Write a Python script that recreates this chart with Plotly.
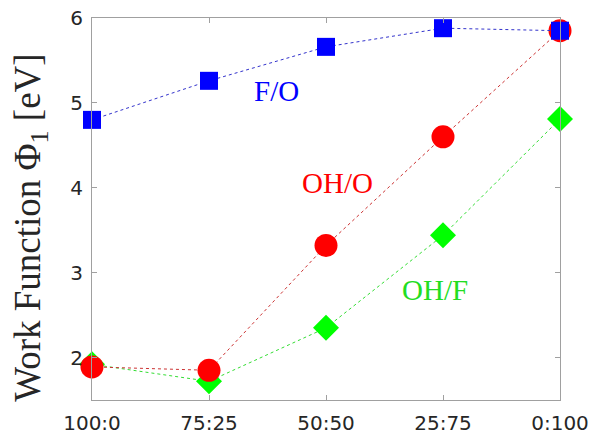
import plotly.graph_objects as go

categories = ["100:0", "75:25", "50:50", "25:75", "0:100"]
fo = [4.80, 5.26, 5.66, 5.88, 5.85]
oho = [1.89, 1.85, 3.32, 4.60, 5.85]
ohf = [1.92, 1.72, 2.35, 3.44, 4.81]
yticks = [2, 3, 4, 5, 6]
xidx = list(range(len(categories)))

fig = go.Figure()
fig.add_trace(go.Scatter(x=xidx, y=ohf, mode="lines+markers", cliponaxis=False,
                         line=dict(color="#33dd33", width=1, dash="dot"),
                         marker=dict(symbol="diamond", size=20, color="#00ff00")))
fig.add_trace(go.Scatter(x=xidx, y=oho, mode="lines+markers", cliponaxis=False,
                         line=dict(color="#cc3333", width=1, dash="dot"),
                         marker=dict(symbol="circle", size=23, color="#ff0000")))
fig.add_trace(go.Scatter(x=xidx, y=fo, mode="lines+markers", cliponaxis=False,
                         line=dict(color="#3333cc", width=1, dash="dot"),
                         marker=dict(symbol="square", size=18, color="#0000ff")))

serif = "Liberation Serif, DejaVu Serif, serif"
fig.add_annotation(x=1.58, y=5.14, text="F/O", showarrow=False,
                   font=dict(family=serif, size=29, color="#0000ff"))
fig.add_annotation(x=2.10, y=4.06, text="OH/O", showarrow=False,
                   font=dict(family=serif, size=29, color="#ff0000"))
fig.add_annotation(x=2.93, y=2.80, text="OH/F", showarrow=False,
                   font=dict(family=serif, size=29, color="#22dd22"))
fig.add_annotation(xref="paper", yref="paper", x=-0.186, y=0.452,
                   text="Work Function Φ<sub>1</sub> [eV]", showarrow=False,
                   textangle=-90, font=dict(family=serif, size=37, color="#262626"))

axis_common = dict(showline=True, linecolor="#a0a0a0", linewidth=1, mirror="ticks",
                   ticks="inside", ticklen=5, tickcolor="#a0a0a0", showgrid=False,
                   zeroline=False, automargin=False,
                   tickfont=dict(family="DejaVu Sans, sans-serif", size=20, color="#262626"))

fig.update_layout(
    width=594, height=437,
    margin=dict(l=92, r=34, t=18, b=37),
    paper_bgcolor="white", plot_bgcolor="white",
    showlegend=False,
    xaxis=dict(**axis_common, range=[0, 4], tickvals=xidx, ticktext=categories,
               ticklabelstandoff=5),
    yaxis=dict(**axis_common, range=[1.5, 6], tickvals=yticks, ticklabelstandoff=4),
)
fig.write_html("out.html")
